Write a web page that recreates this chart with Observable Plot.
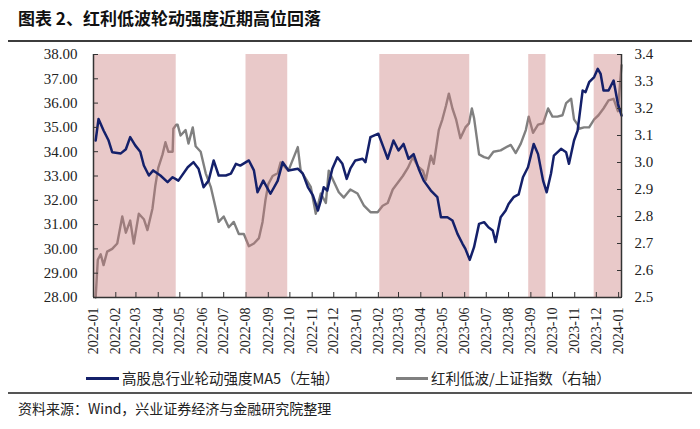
<!DOCTYPE html>
<html><head><meta charset="utf-8">
<script src="https://cdn.jsdelivr.net/npm/d3@7"></script>
<script src="https://cdn.jsdelivr.net/npm/@observablehq/plot@0.6"></script>
<style>
body{margin:0;background:#fff;}
#wrap{position:relative;width:700px;height:429px;overflow:hidden;background:#fff;font-family:"Noto Sans CJK SC",sans-serif;color:#222;}
#chart{position:absolute;left:0;top:0;}
.abs{position:absolute;white-space:nowrap;}
#title{left:18px;top:6px;font-size:17px;font-weight:bold;color:#111;line-height:24px;}
#rule1{left:8px;top:40px;width:684px;height:2px;background:#3c3c3c;}
#rule2{left:8px;top:392px;width:684px;height:1.5px;background:#555;}
#source{left:18px;top:397px;font-size:14px;line-height:22px;color:#222;}
.leg{top:367px;font-size:14.5px;line-height:22px;}
.sw{position:absolute;height:3px;top:377px;}
</style></head><body>
<div id="wrap">
<div id="chart"></div>
<div class="abs" id="title">图表 2、红利低波轮动强度近期高位回落</div>
<div class="abs" id="rule1"></div>
<div class="sw" style="left:86px;width:33px;background:#14206a;"></div>
<div class="abs leg" style="left:122px;">高股息行业轮动强度MA5（左轴）</div>
<div class="sw" style="left:396px;width:32px;background:#808080;"></div>
<div class="abs leg" style="left:431px;">红利低波/上证指数（右轴）</div>
<div class="abs" id="rule2"></div>
<div class="abs" id="source">资料来源：Wind，兴业证券经济与金融研究院整理</div>
</div>
<script>
// ---- data ----
const blueDates = ["2022-01-04","2022-01-08","2022-01-15","2022-01-22","2022-01-27","2022-02-08","2022-02-15","2022-02-21","2022-02-28","2022-03-07","2022-03-12","2022-03-19","2022-03-25","2022-04-04","2022-04-14","2022-04-21","2022-04-29","2022-05-12","2022-05-20","2022-05-27","2022-06-03","2022-06-10","2022-06-17","2022-06-24","2022-07-04","2022-07-11","2022-07-18","2022-07-24","2022-08-05","2022-08-12","2022-08-17","2022-08-25","2022-09-04","2022-09-14","2022-09-21","2022-09-29","2022-10-12","2022-10-19","2022-10-26","2022-11-02","2022-11-09","2022-11-13","2022-11-17","2022-11-22","2022-11-29","2022-12-06","2022-12-13","2022-12-19","2022-12-24","2022-12-31","2023-01-10","2023-01-14","2023-01-21","2023-02-01","2023-02-08","2023-02-14","2023-02-22","2023-03-01","2023-03-08","2023-03-15","2023-03-22","2023-03-29","2023-04-05","2023-04-15","2023-04-24","2023-04-29","2023-05-08","2023-05-15","2023-05-22","2023-05-29","2023-06-02","2023-06-08","2023-06-14","2023-06-21","2023-06-28","2023-07-04","2023-07-10","2023-07-14","2023-07-21","2023-07-28","2023-08-01","2023-08-08","2023-08-15","2023-08-21","2023-08-28","2023-09-01","2023-09-05","2023-09-11","2023-09-18","2023-09-23","2023-09-29","2023-10-03","2023-10-13","2023-10-20","2023-10-24","2023-10-31","2023-11-05","2023-11-12","2023-11-16","2023-11-21","2023-11-28","2023-12-03","2023-12-07","2023-12-11","2023-12-18","2023-12-25","2023-12-31","2024-01-05"];
const blueValues = [34.46,35.35,34.87,34.46,33.98,33.93,34.10,34.60,34.26,34.00,33.43,33.02,33.23,33.02,32.75,32.95,32.81,33.36,33.57,33.30,32.54,32.81,33.64,33.02,33.02,33.10,33.50,33.43,33.64,33.23,32.33,32.81,32.27,32.80,33.57,33.23,33.30,33.10,32.54,32.20,31.58,31.99,32.54,32.40,33.30,33.77,33.50,32.88,33.30,33.64,33.71,33.57,34.60,34.74,34.19,33.71,34.46,34.05,34.32,33.71,33.90,33.30,32.81,32.40,32.13,31.30,31.30,31.17,30.62,30.21,30.00,29.55,30.07,31.03,31.10,30.89,30.76,30.28,31.30,31.58,31.85,32.13,32.24,32.95,33.36,33.84,34.32,33.90,32.81,32.33,33.10,33.84,34.12,33.98,33.50,34.46,34.87,36.52,36.45,36.86,37.07,37.41,37.20,36.52,36.52,36.93,35.97,35.49];

const grayDates = ["2022-01-04","2022-01-07","2022-01-11","2022-01-15","2022-01-20","2022-01-27","2022-02-03","2022-02-10","2022-02-15","2022-02-21","2022-02-26","2022-03-05","2022-03-12","2022-03-17","2022-03-24","2022-03-28","2022-04-01","2022-04-07","2022-04-11","2022-04-15","2022-04-21","2022-04-22","2022-04-26","2022-04-28","2022-05-02","2022-05-09","2022-05-13","2022-05-19","2022-05-23","2022-05-30","2022-06-06","2022-06-13","2022-06-20","2022-06-24","2022-07-01","2022-07-08","2022-07-15","2022-07-22","2022-07-29","2022-08-05","2022-08-12","2022-08-19","2022-08-24","2022-08-28","2022-09-01","2022-09-07","2022-09-14","2022-09-18","2022-09-29","2022-10-12","2022-10-16","2022-10-23","2022-10-30","2022-11-06","2022-11-13","2022-11-20","2022-11-24","2022-12-01","2022-12-08","2022-12-15","2022-12-24","2023-01-03","2023-01-12","2023-01-21","2023-01-31","2023-02-07","2023-02-14","2023-02-21","2023-02-28","2023-03-07","2023-03-14","2023-03-21","2023-03-28","2023-04-04","2023-04-08","2023-04-15","2023-04-19","2023-04-26","2023-05-01","2023-05-06","2023-05-10","2023-05-15","2023-05-20","2023-05-26","2023-06-02","2023-06-07","2023-06-11","2023-06-14","2023-06-21","2023-06-28","2023-07-04","2023-07-11","2023-07-21","2023-07-31","2023-08-04","2023-08-11","2023-08-18","2023-08-25","2023-08-29","2023-09-04","2023-09-11","2023-09-18","2023-09-25","2023-10-01","2023-10-08","2023-10-15","2023-10-20","2023-10-27","2023-10-31","2023-11-05","2023-11-07","2023-11-14","2023-11-21","2023-11-28","2023-12-04","2023-12-11","2023-12-18","2023-12-25","2023-12-31","2024-01-02","2024-01-05"];
const grayValues = [2.50,2.64,2.66,2.62,2.67,2.68,2.70,2.80,2.74,2.785,2.70,2.81,2.79,2.75,2.83,2.915,2.98,3.03,3.075,3.04,3.04,3.125,3.14,3.14,3.10,3.12,3.07,3.13,3.06,3.04,2.96,2.91,2.83,2.78,2.80,2.76,2.78,2.735,2.735,2.69,2.70,2.72,2.78,2.86,2.92,2.95,2.96,3.00,2.97,3.057,2.97,2.94,2.91,2.81,2.885,2.85,2.97,2.93,2.89,2.87,2.90,2.885,2.84,2.816,2.816,2.84,2.85,2.90,2.925,2.95,2.98,3.02,2.985,2.97,2.935,3.025,2.995,3.12,3.16,3.21,3.255,3.20,3.16,3.09,3.13,3.145,3.20,3.165,3.03,3.02,3.015,3.04,3.045,3.06,3.065,3.035,3.07,3.12,3.17,3.11,3.14,3.145,3.20,3.17,3.17,3.175,3.22,3.236,3.16,3.14,3.125,3.13,3.13,3.16,3.175,3.20,3.23,3.236,3.19,3.26,3.36];

const shadeStarts = ["2022-01-01","2022-08-01","2023-02-03","2023-08-29","2023-11-28"];
const shadeEnds   = ["2022-04-26","2022-09-28","2023-06-08","2023-09-22","2024-01-05"];

const leftTicks  = [28,29,30,31,32,33,34,35,36,37,38];
const rightTicks = [2.5,2.6,2.7,2.8,2.9,3.0,3.1,3.2,3.3,3.4];
const monthLabels = ["2022-01","2022-02","2022-03","2022-04","2022-05","2022-06","2022-07","2022-08","2022-09","2022-10","2022-11","2022-12","2023-01","2023-02","2023-03","2023-04","2023-05","2023-06","2023-07","2023-08","2023-09","2023-10","2023-11","2023-12","2024-01"];

// ---- build ----
const parse = d3.utcParse("%Y-%m-%d");
const toLeft = r => 28 + (r - 2.5) / 0.9 * 10;
const fromLeft = v => 2.5 + (v - 28) * 0.09;
const blue = blueDates.map((d, i) => ({date: parse(d), v: blueValues[i]}));
const gray = grayDates.map((d, i) => ({date: parse(d), v: toLeft(grayValues[i])}));
const shades = shadeStarts.map((s, i) => ({x1: parse(s), x2: parse(shadeEnds[i])}));
const months = monthLabels.map(m => parse(m + "-01"));
const xStart = parse("2022-01-01"), xEnd = parse("2024-01-05");
const serif = "'Liberation Serif', 'Times New Roman', serif";

const chart = Plot.plot({
  width: 700, height: 429,
  marginTop: 54, marginBottom: 132, marginLeft: 93, marginRight: 79,
  style: {fontFamily: serif, background: "transparent"},
  x: {type: "utc", domain: [xStart, xEnd]},
  y: {domain: [28, 38]},
  marks: [
    Plot.line(gray, {x: "date", y: "v", stroke: "#808080", strokeWidth: 2.4}),
    Plot.rect(shades, {x1: "x1", x2: "x2", y1: 28, y2: 38, fill: "#c87878", fillOpacity: 0.4}),
    Plot.line(blue, {x: "date", y: "v", stroke: "#14206a", strokeWidth: 2.5}),
    Plot.ruleY([28], {stroke: "#333", strokeWidth: 1.5}),
    Plot.ruleX([xStart, xEnd], {stroke: "#333", strokeWidth: 1.5}),
    // inward ticks
    Plot.axisY({ticks: leftTicks, tickSize: 5, dx: 5, tickFormat: () => "", stroke: "#333", label: null}),
    Plot.axisY({ticks: rightTicks.map(toLeft), anchor: "right", tickSize: 5, dx: -5, tickFormat: () => "", stroke: "#333", label: null}),
    Plot.axisX({ticks: months, tickSize: 5, dy: -5, tickFormat: () => "", stroke: "#333", label: null}),
    // labels
    Plot.axisY({ticks: leftTicks, tickSize: 0, tickPadding: 16, tickFormat: d => d.toFixed(2), fontSize: 15, fontFamily: serif, fill: "#222", label: null}),
    Plot.axisY({ticks: rightTicks.map(toLeft), anchor: "right", tickSize: 0, tickPadding: 13, tickFormat: d => fromLeft(d).toFixed(1), fontSize: 15, fontFamily: serif, fill: "#222", label: null}),
    Plot.axisX({ticks: months, tickSize: 0, tickPadding: 10, tickRotate: -90, tickFormat: d3.utcFormat("%Y-%m"), fontSize: 14, fontFamily: serif, fill: "#222", label: null})
  ]
});
document.getElementById("chart").appendChild(chart);
</script>
</body></html>
